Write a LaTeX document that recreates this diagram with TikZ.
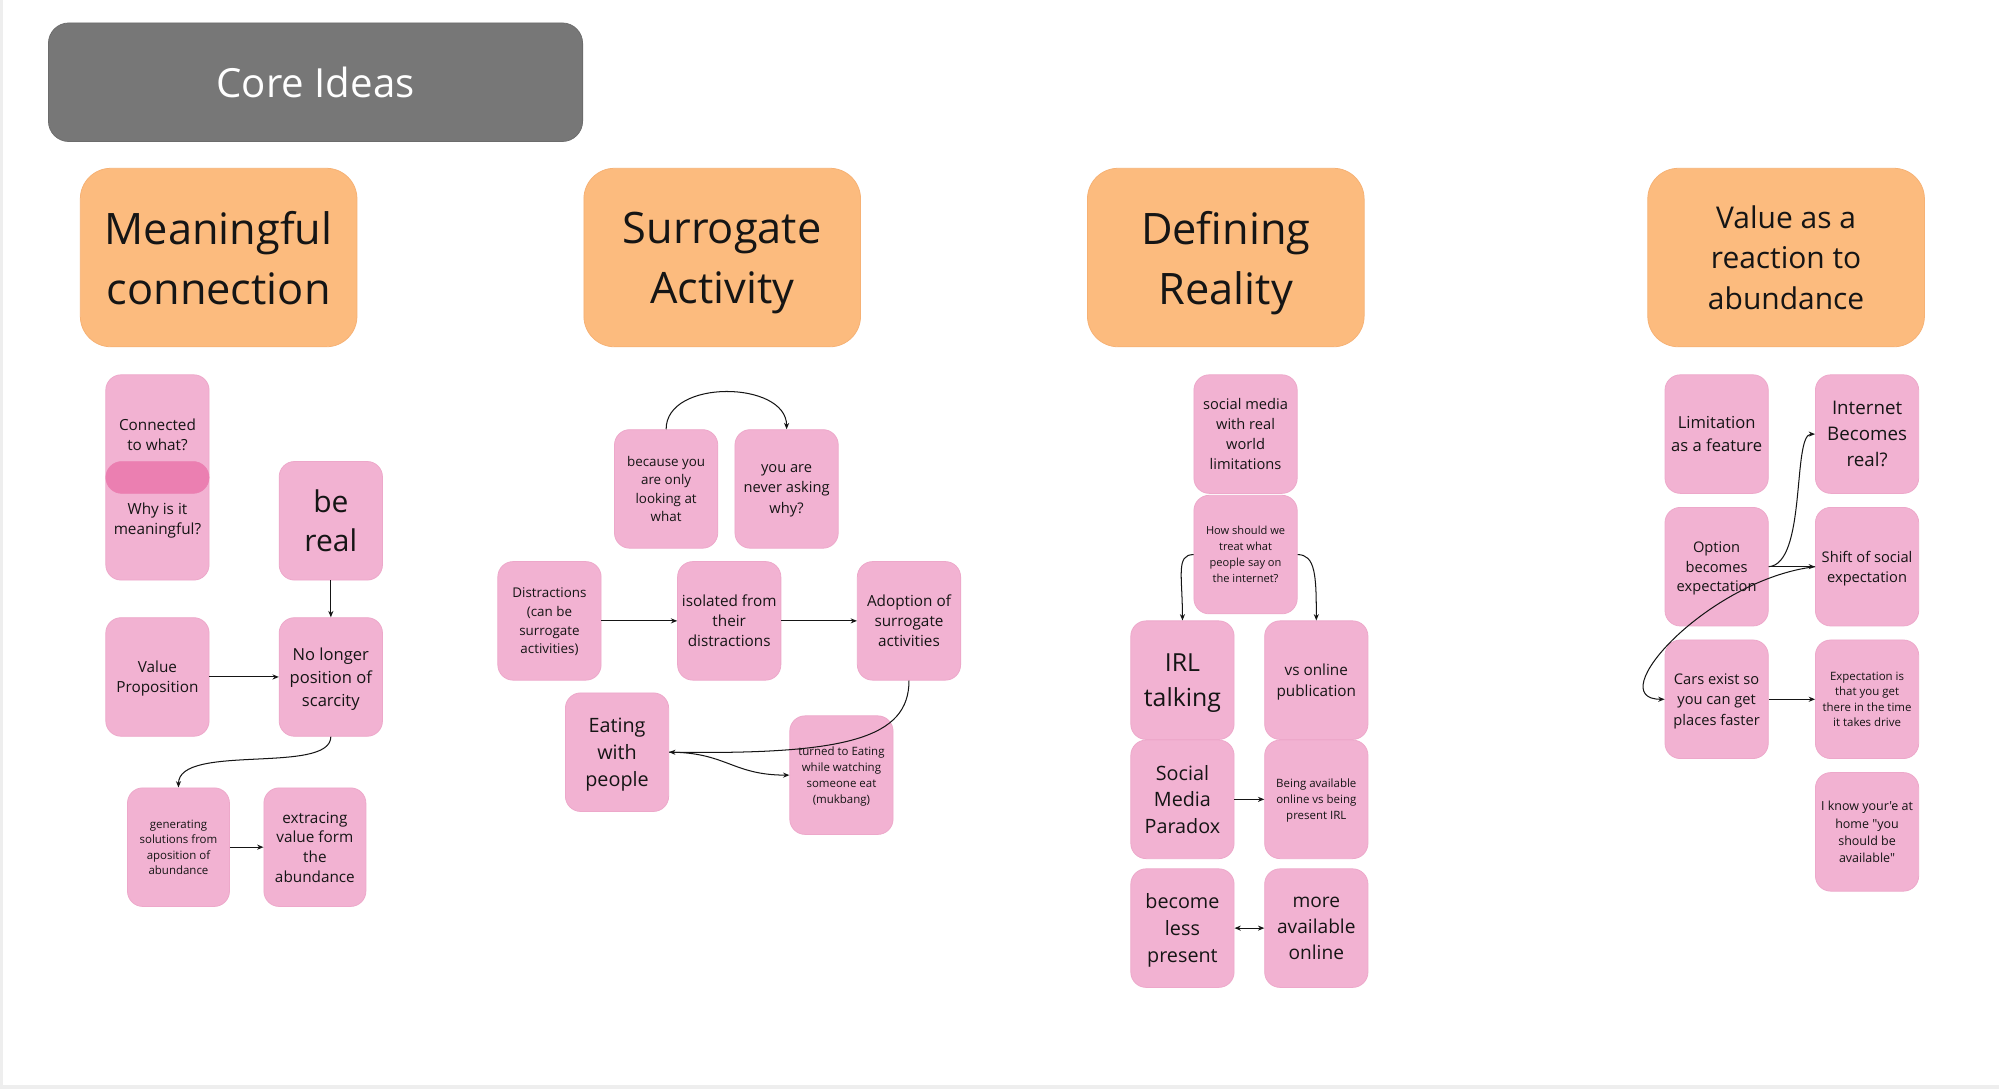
\documentclass[tikz,border=0pt]{standalone}
\usepackage{fontspec}
\setmainfont{Open Sans}[Ligatures=TeXOff]
\usetikzlibrary{arrows.meta}
\definecolor{pinkf}{HTML}{F2B2D2}
\definecolor{pinkd}{HTML}{EDA8CA}
\definecolor{pinkdark}{HTML}{EB7FB1}
\definecolor{orf}{HTML}{FCBB7E}
\definecolor{ord}{HTML}{F6B174}
\definecolor{grf}{HTML}{777777}
\definecolor{grd}{HTML}{6C6C6C}
\definecolor{edgegray}{HTML}{EEEEEE}
\definecolor{txt}{HTML}{151515}
\newcommand\fsz[2]{\fontsize{#1}{#2}\selectfont}
\begin{document}
\begin{tikzpicture}[x=1pt,y=-1pt,
  evenbox/.style={text depth=0pt, execute at begin node={\vphantom{l}}},
  pbox/.style={rectangle, rounded corners=12pt, fill=pinkf, draw=pinkd, line width=0.6pt,
    minimum width=81pt, minimum height=93pt, inner sep=0pt, align=center, text=txt, evenbox},
  hbox/.style={rectangle, rounded corners=24pt, fill=orf, draw=ord, line width=0.6pt,
    minimum width=217pt, minimum height=140pt, inner sep=0pt, align=center, text=txt, evenbox},
  arr/.style={draw=txt, line width=0.8pt, -{Stealth[length=5pt,width=4pt]}},
  arrboth/.style={draw=txt, line width=0.8pt, {Stealth[length=5pt,width=4pt]}-{Stealth[length=5pt,width=4pt]}}
]
\useasboundingbox (0,0) rectangle (1568,854);
\fill[white] (0,0) rectangle (1568,854);
\fill[edgegray] (0,0) rectangle (2.5,854);
\fill[edgegray] (0,851) rectangle (1568,854);

% title
\node[rectangle, rounded corners=16pt, fill=grf, draw=grd, line width=0.6pt,
  minimum width=419pt, minimum height=93pt, text=white, font=\fsz{31.5}{38}] (core) at (247.5,64.5) {Core Ideas};

% headers
\node[hbox, font=\fsz{34}{47}] (h1) at (171.5,202) {Meaningful\\connection};
\node[hbox, font=\fsz{34}{47}] (h2) at (566.5,202) {Surrogate\\Activity};
\node[hbox, font=\fsz{34}{47}] (h3) at (961.5,202) {Defining\\Reality};
\node[hbox, font=\fsz{23.5}{32}] (h4) at (1401,202) {Value as a\\reaction to\\abundance};

% column 1
\node[pbox, minimum height=161pt] (conn) at (123.5,374.5) {};
\node[rectangle, rounded corners=12.5pt, fill=pinkdark, draw=pinkdark, minimum width=81pt, minimum height=25pt, inner sep=0pt] (ell) at (123.5,374.5) {};
\node[align=center, text=txt, inner sep=0pt, font=\fsz{12}{15.5}] (connt) at (123.5,341) {Connected\\to what?};
\node[align=center, text=txt, inner sep=0pt, font=\fsz{12}{15.5}] (whyt) at (123.5,408.5) {Why is it\\meaningful?};
\node[pbox, font=\fsz{23.5}{31}] (bereal) at (259.5,408.5) {be\\real};
\node[pbox, font=\fsz{12}{15.5}] (valprop) at (123.5,531) {Value\\Proposition};
\node[pbox, font=\fsz{13}{18}] (nolonger) at (259.5,531) {No longer\\position of\\scarcity};
\node[pbox, minimum width=80pt, font=\fsz{9}{12}] (gen) at (140,664.5) {generating\\solutions from\\aposition of\\abundance};
\node[pbox, minimum width=80pt, font=\fsz{12}{15.5}] (extr) at (247,664.5) {extracing\\value form\\the\\abundance};

\draw[arr] (bereal) -- (nolonger);
\draw[arr] (valprop) -- (nolonger);
\draw[arr] (nolonger.south) .. controls +(0,30) and +(0,-35) .. (gen.north);
\draw[arr] (gen) -- (extr);

% column 2
\node[pbox, font=\fsz{10.5}{14.6}] (because) at (522.5,383.5) {because you\\are only\\looking at\\what};
\node[pbox, font=\fsz{11.5}{16}] (never) at (617,383.5) {you are\\never asking\\why?};
\node[pbox, font=\fsz{10.5}{14.6}] (distr) at (431,487) {Distractions\\(can be\\surrogate\\activities)};
\node[pbox, font=\fsz{12}{15.5}] (isol) at (572,487) {isolated from\\their\\distractions};
\node[pbox, font=\fsz{12}{15.5}] (adopt) at (713,487) {Adoption of\\surrogate\\activities};
\node[pbox, font=\fsz{15.5}{21}] (eating) at (484,590) {Eating\\with\\people};
\node[pbox, font=\fsz{9}{12.4}] (turned) at (660,608) {turned to Eating\\while watching\\someone eat\\(mukbang)};

\draw[arr] (because.north) .. controls +(0,-40) and +(0,-38) .. (never.north);
\draw[arr] (distr) -- (isol);
\draw[arr] (isol) -- (adopt);
\draw[arr] (adopt.south) .. controls +(0,45) and +(140,2) .. (eating.east);
\draw[arr] (eating.east) .. controls +(45,0) and +(-45,0) .. (turned.west);

% column 3
\node[pbox, font=\fsz{11.5}{15.7}] (smrw) at (977,340.5) {social media\\with real\\world\\limitations};
\node[pbox, font=\fsz{8.7}{12.5}] (how) at (977,435) {How should we\\treat what\\people say on\\the internet?};
\node[pbox, font=\fsz{19.5}{27}] (irl) at (927.5,533.5) {IRL\\talking};
\node[pbox, font=\fsz{12}{16}] (vsonline) at (1032.5,533.5) {vs online\\publication};
\node[pbox, font=\fsz{15.5}{21}] (smp) at (927.5,627) {Social\\Media\\Paradox};
\node[pbox, font=\fsz{9}{12.5}] (being) at (1032.5,627) {Being available\\online vs being\\present IRL};
\node[pbox, font=\fsz{15.5}{21}] (become) at (927.5,728) {become\\less\\present};
\node[pbox, font=\fsz{15}{20.5}] (more) at (1032.5,728) {more\\available\\online};

\draw[arr] (how.west) .. controls +(-14,0) and +(0,-35) .. (irl.north);
\draw[arr] (how.east) .. controls +(14,0) and +(0,-35) .. (vsonline.north);
\draw[arr] (smp) -- (being);
\draw[arrboth] (become) -- (more);

% column 4
\node[pbox, font=\fsz{13}{18}] (limit) at (1346.5,340.5) {Limitation\\as a feature};
\node[pbox, font=\fsz{14.7}{20.5}] (internet) at (1464.5,340.5) {Internet\\Becomes\\real?};
\node[pbox, font=\fsz{11.5}{15.5}] (option) at (1346.5,444.5) {Option\\becomes\\expectation};
\node[pbox, font=\fsz{11.5}{16}] (shift) at (1464.5,444.5) {Shift of social\\expectation};
\node[pbox, font=\fsz{11.5}{16}] (cars) at (1346.5,548.5) {Cars exist so\\you can get\\places faster};
\node[pbox, font=\fsz{9}{12}] (expect) at (1464.5,548.5) {Expectation is\\that you get\\there in the time\\it takes drive};
\node[pbox, font=\fsz{9.8}{13.5}] (iknow) at (1464.5,652.5) {I know your'e at\\home "you\\should be\\available"};

\draw[arr] (option.east) .. controls +(30,-2) and +(-18,0) .. (internet.west);
\draw[arr] (option.east) -- (shift.west);
\draw[arr] (shift.west) .. controls +(-84,10) and +(-51,0) .. (cars.west);
\draw[arr] (cars) -- (expect);
\end{tikzpicture}
\end{document}
